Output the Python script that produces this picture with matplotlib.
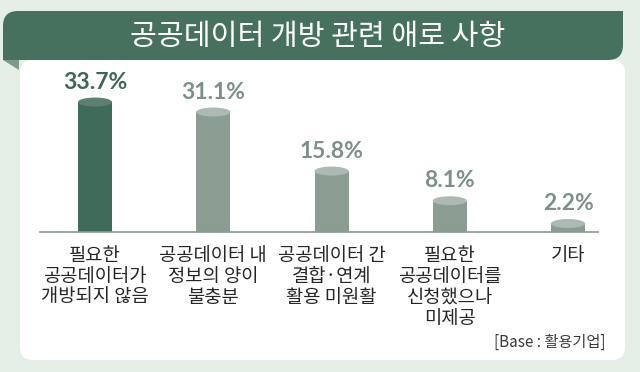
import matplotlib
matplotlib.use("Agg")
import matplotlib.pyplot as plt
from matplotlib.patches import FancyBboxPatch, Rectangle, Ellipse, Polygon

plt.rcParams['font.family'] = ['Noto Sans CJK KR', 'DejaVu Sans']

# data
categories = ['필요한\n공공데이터가\n개방되지 않음',
              '공공데이터 내\n정보의 양이\n불충분',
              '공공데이터 간\n결합·연계\n활용 미원활',
              '필요한\n공공데이터를\n신청했으나\n미제공',
              '기타']
values = [33.7, 31.1, 15.8, 8.1, 2.2]
value_labels = ['33.7%', '31.1%', '15.8%', '8.1%', '2.2%']
title = '공공데이터 개방 관련 애로 사항'
base_note = '[Base : 활용기업]'

bar_colors = ['#3f6b5a'] + ['#8b9c93'] * 4
top_colors = ['#5e8071'] + ['#adbab3'] * 4
label_colors = ['#3d6656'] + ['#7f9088'] * 4

fig = plt.figure(figsize=(6.4, 3.72), dpi=100)
fig.patch.set_facecolor('#e5efe7')

# background decorations in pixel coordinates
bg = fig.add_axes([0, 0, 1, 1])
bg.set_xlim(0, 640)
bg.set_ylim(372, 0)
bg.axis('off')

panel = FancyBboxPatch((20, 60), 605, 300, boxstyle='round,pad=0,rounding_size=13',
                       facecolor='white', edgecolor='none')
bg.add_patch(panel)

green = '#46715f'
banner = FancyBboxPatch((3, 11), 620, 49, boxstyle='round,pad=0,rounding_size=15',
                        facecolor=green, edgecolor='none')
bg.add_patch(banner)
bg.add_patch(Rectangle((590, 11), 33, 20, facecolor=green, edgecolor='none'))
bg.add_patch(Rectangle((3, 35), 25, 25, facecolor=green, edgecolor='none'))
bg.add_patch(Polygon([(3, 60), (19, 60), (19, 70)], closed=True,
                     facecolor='#7f9a8c', edgecolor='none'))
bg.text(318, 37, title, color='white', fontsize=21, ha='center', va='center')

# bar chart
x0, x1, base_y, top_y = 40, 598, 232, 70
ax = fig.add_axes([x0 / 640, (372 - base_y) / 372, (x1 - x0) / 640, (base_y - top_y) / 372])
ax.set_facecolor('none')
step = 118.25
pos = list(range(len(values)))
ax.set_xlim((x0 - 95) / step, (x1 - 95) / step)
ymax = 42.0
ax.set_ylim(0, ymax)
bw = 34 / step
ax.bar(pos, values, width=bw, color=bar_colors, zorder=2)
eh = 9 / ((base_y - top_y) / ymax)
for p, v, tc, lab, lc in zip(pos, values, top_colors, value_labels, label_colors):
    ax.add_patch(Ellipse((p, v), bw, eh, facecolor=tc, edgecolor='none', zorder=3))
    ax.annotate(lab, (p, v), xytext=(0, 20), textcoords='offset pixels',
                ha='center', va='center', fontsize=16.5, fontweight='bold',
                color=lc, family=['Lato', 'DejaVu Sans'], annotation_clip=False)

for s in ['top', 'right', 'left']:
    ax.spines[s].set_visible(False)
ax.spines['bottom'].set_color('#8c9a93')
ax.spines['bottom'].set_linewidth(1.2)
ax.set_yticks([])
ax.set_xticks(pos)
ax.set_xticklabels(categories, fontsize=13.5, color='#262626', linespacing=1.02)
ax.tick_params(axis='x', length=0, pad=9)

fig.text(605 / 640, (372 - 342) / 372, base_note, ha='right', va='center',
         fontsize=11, color='#3a3a3a')

fig.savefig('out.png', dpi=100, facecolor=fig.get_facecolor())
